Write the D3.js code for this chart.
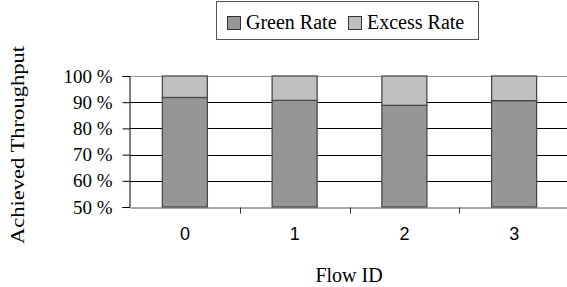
<!DOCTYPE html>
<html>
<head>
<meta charset="utf-8">
<script src="https://cdn.jsdelivr.net/npm/d3@7"></script>
<style>
  body { margin: 0; background: #fff; }
  svg { display: block; }
</style>
</head>
<body>
<div id="chart"></div>
<script>
(function(d3) {
  'use strict';

  // data
  var flows = ['0', '1', '2', '3'];
  var greenRate = [91.8, 90.7, 88.8, 90.6];
  var excessRate = [8.2, 9.3, 11.2, 9.4];
  var yTicks = [50, 60, 70, 80, 90, 100];
  var seriesNames = ['Green Rate', 'Excess Rate'];

  var width = 567;
  var height = 287;
  var left = 130, right = 569, top = 76, bottom = 207;
  var serif = '"Liberation Serif", "Times New Roman", serif';

  var color = d3.scaleOrdinal()
    .domain(seriesNames)
    .range(['#969696', '#c0c0c0']);

  var svg = d3.select('#chart')
    .append('svg')
    .attr('width', width)
    .attr('height', height);

  var x = d3.scaleBand()
    .domain(flows)
    .range([left, right])
    .paddingInner(0.59)
    .paddingOuter(0.295);

  var xb = d3.scaleBand()
    .domain(flows)
    .range([left, right]);

  var y = d3.scaleLinear()
    .domain([50, 100])
    .range([bottom, top]);

  // gridlines
  svg.append('g')
    .selectAll('line')
    .data(yTicks.slice(1, -1))
    .enter()
    .append('line')
    .attr('x1', left)
    .attr('x2', right)
    .attr('y1', function(d) { return Math.round(y(d)) + 0.5; })
    .attr('y2', function(d) { return Math.round(y(d)) + 0.5; })
    .attr('stroke', '#000');

  svg.append('line')
    .attr('x1', left).attr('x2', right)
    .attr('y1', Math.round(y(100)) + 0.5).attr('y2', Math.round(y(100)) + 0.5)
    .attr('stroke', '#999');

  // stacked bars
  var rows = flows.map(function(f, i) {
    return { flow: f, 'Green Rate': greenRate[i], 'Excess Rate': excessRate[i] };
  });
  var stack = d3.stack().keys(seriesNames);
  var layers = stack(rows);

  svg.append('g')
    .selectAll('g')
    .data(layers)
    .enter()
    .append('g')
    .attr('fill', function(d) { return color(d.key); })
    .selectAll('rect')
    .data(function(d) { return d; })
    .enter()
    .append('rect')
    .attr('x', function(d) { return x(d.data.flow); })
    .attr('width', x.bandwidth())
    .attr('y', function(d) { return y(Math.max(d[1], 50)); })
    .attr('height', function(d) { return y(Math.max(d[0], 50)) - y(Math.max(d[1], 50)); })
    .attr('stroke', '#4a4a4a')
    .attr('stroke-width', 1.3);

  // y axis
  var yAxis = d3.axisLeft(y)
    .tickValues(yTicks)
    .tickSize(7)
    .tickPadding(10)
    .tickFormat(function(d) { return d + ' %'; });

  var gy = svg.append('g')
    .attr('transform', 'translate(' + (left - 0.5) + ',0)')
    .call(yAxis);
  gy.select('.domain').attr('stroke', '#000');
  gy.selectAll('.tick line').attr('stroke', '#000');
  gy.selectAll('text')
    .attr('font-family', serif)
    .attr('font-size', 19)
    .attr('fill', '#000');

  // x axis
  var xAxis = d3.axisBottom(xb)
    .tickSize(0)
    .tickPadding(20)
    .tickSizeOuter(0);

  var gx = svg.append('g')
    .attr('transform', 'translate(0,' + (Math.round(bottom) + 0.5) + ')')
    .call(xAxis);
  gx.select('.domain').attr('stroke', '#555');
  gx.selectAll('text')
    .attr('font-family', '"Liberation Sans", Arial, sans-serif')
    .attr('font-size', 18)
    .attr('fill', '#000');

  // category separators
  gx.selectAll('.sep')
    .data(flows.slice(1))
    .enter()
    .append('line')
    .attr('class', 'sep')
    .attr('x1', function(d) { return Math.round(xb(d)) + 0.5; })
    .attr('x2', function(d) { return Math.round(xb(d)) + 0.5; })
    .attr('y1', 0)
    .attr('y2', 6)
    .attr('stroke', '#333');

  // axis titles
  svg.append('text')
    .attr('x', 349)
    .attr('y', 282)
    .attr('text-anchor', 'middle')
    .attr('font-family', serif)
    .attr('font-size', 20)
    .text('Flow ID');

  svg.append('text')
    .attr('transform', 'translate(24,145) rotate(-90)')
    .attr('text-anchor', 'middle')
    .attr('font-family', serif)
    .attr('font-size', 19)
    .attr('textLength', 198)
    .attr('lengthAdjust', 'spacingAndGlyphs')
    .text('Achieved Throughput');

  // legend
  var legend = svg.append('g');
  legend.append('rect')
    .attr('x', 216.5).attr('y', 1.5)
    .attr('width', 262).attr('height', 38)
    .attr('fill', '#fff')
    .attr('stroke', '#555');

  var legendX = [227, 348];
  var item = legend.selectAll('.item')
    .data(seriesNames)
    .enter()
    .append('g')
    .attr('class', 'item')
    .attr('transform', function(d, i) { return 'translate(' + legendX[i] + ',16)'; });

  item.append('rect')
    .attr('x', 0.5).attr('y', 0.5)
    .attr('width', 13).attr('height', 13)
    .attr('fill', color)
    .attr('stroke', '#333');

  item.append('text')
    .attr('x', 19)
    .attr('y', 13)
    .attr('font-family', serif)
    .attr('font-size', 20)
    .text(function(d) { return d; });

})(window.d3);
</script>
</body>
</html>
